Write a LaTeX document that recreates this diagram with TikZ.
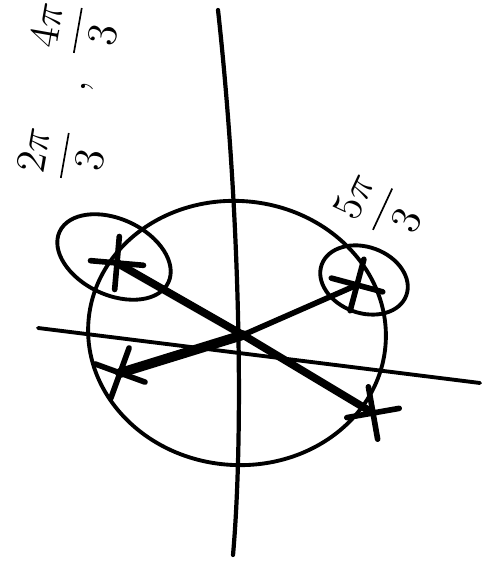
\documentclass[tikz,border=0pt]{standalone}
\usepackage{amsmath}
\usepackage{tikz}
\usetikzlibrary{calc,positioning,arrows.meta,shapes.geometric,shapes.misc}

\begin{document}
\begin{tikzpicture}[line cap=round,
                      ring/.style={ellipse,draw,line width=1.1pt,inner sep=0pt},
                      xmark/.style={cross out,draw,line width=1.6pt,
                                    minimum size=0.32cm,inner sep=0pt},
                      lbl/.style={font=\large,rotate=80,inner sep=0pt}]
    \useasboundingbox (0,0) rectangle (4.85,5.70);

    % axes
    \coordinate (vt) at (2.18,5.60);
    \coordinate (vb) at (2.33,0.15);
    \coordinate (hl) at (0.38,2.42);
    \coordinate (hr) at (4.80,1.87);
    \draw[line width=1.2pt] (vt) .. controls (2.40,3.6) and (2.44,1.4) .. (vb);
    \draw[line width=1.1pt] (hl) -- (hr);

    % unit circle and roots
    \node[ring,minimum width=2.98cm,minimum height=2.64cm,rotate=-5] (c) at (2.37,2.37) {};
    \coordinate (o) at (2.43,2.35);
    \coordinate (p1) at (1.17,3.07);
    \coordinate (p2) at (3.57,2.85);
    \coordinate (p3) at (1.20,1.97);
    \coordinate (p4) at (3.73,1.57);

    \draw[line width=2.2pt] (o) -- (p1);
    \draw[line width=1.6pt] (o) -- (p2);
    \draw[line width=2.8pt] (o) -- (p3);
    \draw[line width=2.2pt] (o) -- (p4);

    \node[xmark,rotate=40] (x1) at (p1) {};
    \node[xmark,rotate=30] (x2) at (p2) {};
    \node[xmark,rotate=25] (x3) at (p3) {};
    \node[xmark,rotate=55] (x4) at (p4) {};

    % circled roots
    \node[ring,minimum width=1.2cm,minimum height=0.76cm,rotate=-25] (e1) at (1.14,3.13) {};
    \node[ring,minimum width=0.9cm,minimum height=0.66cm,rotate=-20] (e2) at (3.64,2.90) {};

    % labels
    \node[lbl] (l4) at (0.75,5.40) {$\dfrac{4\pi}{3}$};
    \node[lbl] (lc) at (0.88,4.83) {$,$};
    \node[lbl] (l2) at (0.62,4.15) {$\dfrac{2\pi}{3}$};
    \node[lbl,rotate=-15] (l5) at (3.80,3.62) {$\dfrac{5\pi}{3}$};
  \end{tikzpicture}
\end{document}
